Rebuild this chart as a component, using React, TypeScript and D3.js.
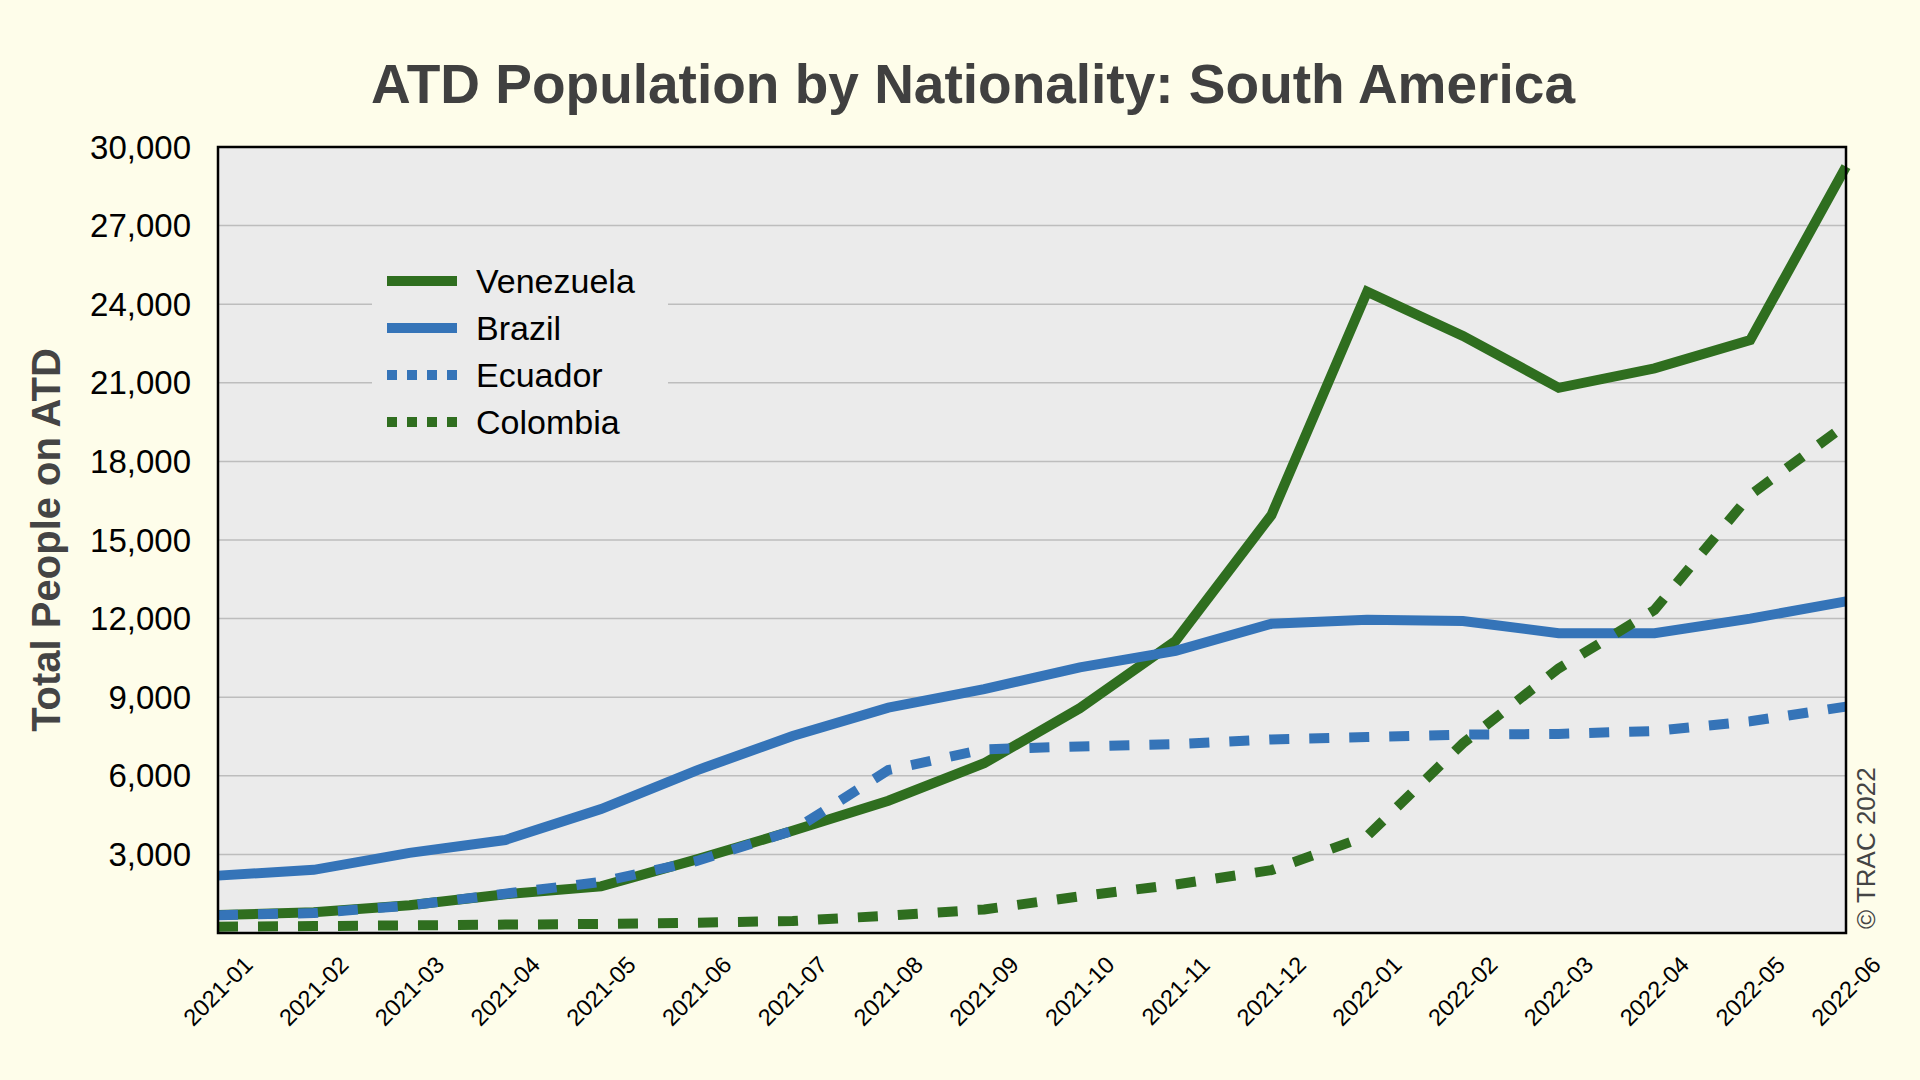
import React from "react";
import * as d3 from "d3";

const months = [
  "2021-01", "2021-02", "2021-03", "2021-04", "2021-05", "2021-06",
  "2021-07", "2021-08", "2021-09", "2021-10", "2021-11", "2021-12",
  "2022-01", "2022-02", "2022-03", "2022-04", "2022-05", "2022-06",
];
const venezuela = [690, 790, 1060, 1480, 1780, 2810, 3900, 5050, 6480, 8580, 11150, 15950, 24480, 22790, 20810, 21550, 22630, 29250];
const brazil = [2190, 2410, 3060, 3550, 4730, 6210, 7520, 8600, 9310, 10140, 10770, 11800, 11960, 11910, 11440, 11440, 12000, 12660];
const ecuador = [680, 760, 1050, 1500, 1950, 2750, 3900, 6220, 7010, 7120, 7210, 7390, 7480, 7570, 7600, 7710, 8080, 8640];
const colombia = [240, 265, 290, 320, 345, 395, 460, 660, 900, 1400, 1850, 2400, 3700, 7240, 10100, 12330, 16720, 19400];
const yTicks = [3000, 6000, 9000, 12000, 15000, 18000, 21000, 24000, 27000, 30000];
const seriesNames = ["Venezuela", "Brazil", "Ecuador", "Colombia"];

const W = 1920;
const H = 1080;
const PL = 218, PR = 1846, PT = 147, PB = 933;
const GREEN = "#2f6e1f";
const BLUE = "#3574b8";
const FONT = "'Liberation Sans', Arial, Helvetica, sans-serif";

export default function App() {
  const x = d3.scalePoint<string>().domain(months).range([PL, PR]);
  const y = d3.scaleLinear().domain([0, 30000]).range([PB, PT]);
  const line = d3
    .line<number>()
    .x((_, i) => x(months[i]) as number)
    .y((d) => y(d));
  const fmt = d3.format(",");

  const series = [
    { name: seriesNames[0], values: venezuela, color: GREEN, dash: undefined, legDash: undefined },
    { name: seriesNames[1], values: brazil, color: BLUE, dash: undefined, legDash: undefined },
    { name: seriesNames[2], values: ecuador, color: BLUE, dash: "20 20", legDash: "10 10" },
    { name: seriesNames[3], values: colombia, color: GREEN, dash: "20 20", legDash: "10 10" },
  ];

  const legX0 = 387, legX1 = 457, legTextX = 476, legY0 = 281, legDy = 47;

  return (
    <div style={{ position: "absolute", left: 0, top: 0 }}>
      <svg width={W} height={H} style={{ display: "block" }} fontFamily={FONT}>
        <rect x={0} y={0} width={W} height={H} fill="#fefdea" />
        <rect x={PL} y={PT} width={PR - PL} height={PB - PT} fill="#ebebeb" />
        {yTicks.map((t) => (
          <line key={"g" + t} x1={PL} x2={PR} y1={y(t)} y2={y(t)} stroke="#bdbdbd" strokeWidth={1.5} />
        ))}
        {/* legend background */}
        <rect x={372} y={254} width={296} height={196} fill="#ebebeb" />
        {series.map((s) => (
          <path
            key={s.name}
            d={line(s.values) || ""}
            fill="none"
            stroke={s.color}
            strokeWidth={10}
            strokeDasharray={s.dash}
            strokeLinejoin="miter"
            strokeLinecap="butt"
          />
        ))}
        <rect x={PL} y={PT} width={PR - PL} height={PB - PT} fill="none" stroke="#000" strokeWidth={2.5} />
        {/* y tick labels */}
        {yTicks.map((t) => (
          <text key={"t" + t} x={191} y={y(t)} textAnchor="end" dominantBaseline="central" fontSize={33} fill="#000">
            {fmt(t)}
          </text>
        ))}
        {/* x tick labels */}
        {months.map((m) => {
          const cx = x(m) as number;
          const cy = 991;
          return (
            <text
              key={m}
              x={cx}
              y={cy}
              textAnchor="middle"
              dominantBaseline="central"
              fontSize={23.5}
              fill="#000"
              transform={`rotate(-45, ${cx}, ${cy})`}
            >
              {m}
            </text>
          );
        })}
        {/* legend */}
        {series.map((s, i) => {
          const ly = legY0 + i * legDy;
          return (
            <g key={"leg" + s.name}>
              <line x1={legX0} x2={legX1} y1={ly} y2={ly} stroke={s.color} strokeWidth={10} strokeDasharray={s.legDash} />
              <text x={legTextX} y={ly + 12} fontSize={34} fill="#000">
                {s.name}
              </text>
            </g>
          );
        })}
        {/* title */}
        <text x={973} y={103} textAnchor="middle" fontSize={55} fontWeight="bold" fill="#404040">
          ATD Population by Nationality: South America
        </text>
        {/* y axis label */}
        <text
          x={60}
          y={540}
          textAnchor="middle"
          fontSize={40}
          fontWeight="bold"
          fill="#444"
          transform="rotate(-90, 60, 540)"
        >
          Total People on ATD
        </text>
        {/* copyright */}
        <text x={1875} y={929} fontSize={26} fill="#444" transform="rotate(-90, 1875, 929)">
          © TRAC 2022
        </text>
      </svg>
    </div>
  );
}
